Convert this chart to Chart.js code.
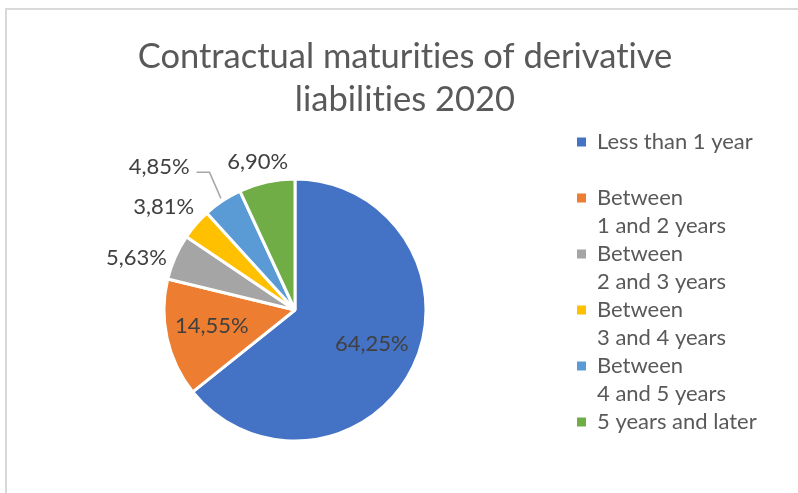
<!DOCTYPE html>
<html>
<head>
<meta charset="utf-8">
<script src="https://cdn.jsdelivr.net/npm/chart.js@4.4.0/dist/chart.umd.min.js"></script>
<style>
  html, body { margin: 0; padding: 0; background: #fff; overflow: hidden; }
  #wrap { position: relative; width: 798px; height: 493px; }
  #frame {
    position: absolute; left: 5px; top: 8px; width: 820px; height: 600px;
    border: 2px solid #d9d9d9; box-sizing: border-box; pointer-events: none;
  }
</style>
</head>
<body>
<div id="wrap">
  <canvas id="pieChart"></canvas>
  <div id="frame"></div>
</div>
<script>
// maturity buckets and their share of derivative liabilities, 2020
const categories = [
  "Less than 1 year",
  ["Between", "1 and 2 years"],
  ["Between", "2 and 3 years"],
  ["Between", "3 and 4 years"],
  ["Between", "4 and 5 years"],
  "5 years and later"
];
const shares = [64.25, 14.55, 5.63, 3.81, 4.85, 6.90];
const sliceColors = ["#4472C4", "#ED7D31", "#A5A5A5", "#FFC000", "#5B9BD5", "#70AD47"];

const FONT = "Lato, 'Noto Sans', sans-serif";

const pct = v => v.toFixed(2).replace(".", ",") + "%";

// small hand nudges for the outside labels, like the original's
const labelNudge = [[0, 0], [0, 0], [0, 9], [0, -4], [-40, -16], [0, 0]];

// no "ti" ligatures, the original font has none
const plainText = {
  id: "plainText",
  beforeDraw(chart) { chart.ctx.textRendering = "optimizeSpeed"; }
};

// percentage labels: big slices inside, small ones outside
const sliceLabels = {
  id: "sliceLabels",
  afterDatasetsDraw(chart) {
    const ctx = chart.ctx;
    const arcs = chart.getDatasetMeta(0).data;
    ctx.save();
    ctx.font = "22px " + FONT;
    ctx.fillStyle = "#404040";
    ctx.textBaseline = "middle";
    ctx.textAlign = "center";
    arcs.forEach((arc, i) => {
      const { x, y, startAngle, endAngle, outerRadius } = arc.getProps(
        ["x", "y", "startAngle", "endAngle", "outerRadius"], true);
      const mid = (startAngle + endAngle) / 2;
      const cos = Math.cos(mid), sin = Math.sin(mid);
      const txt = pct(shares[i]);
      if (shares[i] > 10) {
        ctx.fillText(txt, x + cos * outerRadius * 0.65, y + sin * outerRadius * 0.65 - 3);
        return;
      }
      const w = ctx.measureText(txt).width;
      const px = x + cos * (outerRadius + 12);
      const py = y + sin * (outerRadius + 12);
      const cx = px + cos * w / 2 + labelNudge[i][0];
      const cy = py + sin * 9 + labelNudge[i][1];
      if (labelNudge[i][0] !== 0) {
        // dragged away from its slice, so it gets a leader line
        const right = cx + w / 2;
        ctx.strokeStyle = "#A6A6A6";
        ctx.lineWidth = 1.5;
        ctx.beginPath();
        ctx.moveTo(x + cos * (outerRadius + 3), y + sin * (outerRadius + 3));
        ctx.lineTo(right + 20, cy + 5);
        ctx.lineTo(right + 7, cy + 5);
        ctx.stroke();
      }
      ctx.fillText(txt, cx, cy);
    });
    ctx.restore();
  }
};

// legend sits further right than its natural width would put it
const wideLegend = {
  id: "wideLegend",
  beforeLayout(chart) {
    const lg = chart.legend;
    if (lg && !lg._wide) {
      const fit = lg.fit;
      lg.fit = function () { fit.call(this); this.width = 220; };
      lg._wide = true;
    }
  }
};

new Chart(document.getElementById("pieChart"), {
  type: "pie",
  data: {
    labels: categories,
    datasets: [{
      data: shares,
      backgroundColor: sliceColors,
      borderColor: "#ffffff",
      borderWidth: 3,
      radius: 131
    }]
  },
  options: {
    responsive: true,
    maintainAspectRatio: false,
    animation: false,
    layout: { padding: { top: 10, left: 13, right: 1, bottom: 26 } },
    plugins: {
      title: {
        display: true,
        text: ["Contractual maturities of derivative", "liabilities 2020"],
        color: "#595959",
        font: { family: FONT, size: 34.5, weight: "normal", lineHeight: 43 / 34.5 },
        padding: { top: 25.5, bottom: 31.5 }
      },
      legend: {
        position: "right",
        align: "end",
        labels: {
          color: "#595959",
          font: { family: FONT, size: 22, lineHeight: 28 / 22 },
          boxWidth: 9,
          boxHeight: 9,
          padding: 0,
          generateLabels(chart) {
            const items = Chart.overrides.pie.plugins.legend.labels.generateLabels(chart);
            items.forEach(it => {
              it.lineWidth = 0;
              if (typeof it.text === "string") it.text = [it.text, ""];
            });
            return items;
          }
        }
      },
      tooltip: { enabled: false }
    }
  },
  plugins: [plainText, sliceLabels, wideLegend]
});
</script>
</body>
</html>
